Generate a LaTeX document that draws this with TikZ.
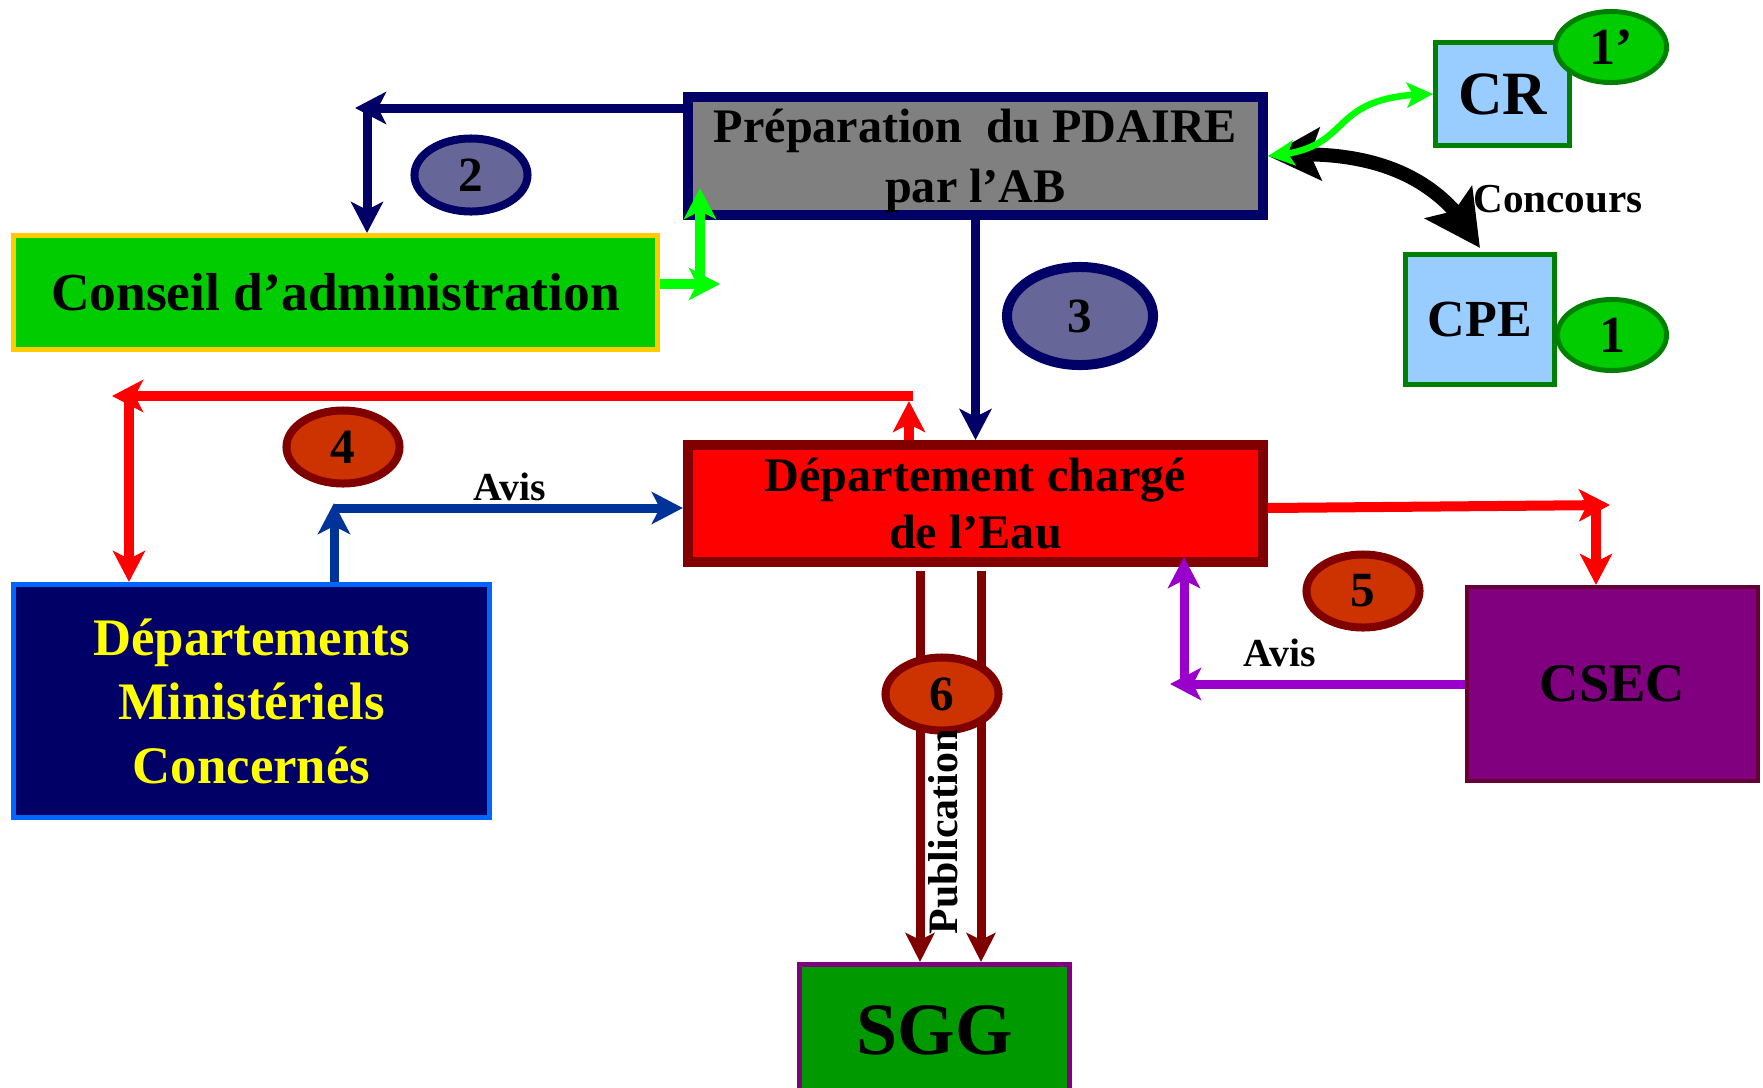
\documentclass[tikz,border=0pt]{standalone}
\usepackage{fontspec}
\setmainfont{Liberation Serif}
\usetikzlibrary{arrows.meta,shapes.geometric,bending}
\definecolor{cnavy}{HTML}{000066}
\definecolor{cgray}{HTML}{808080}
\definecolor{cslate}{HTML}{666699}
\definecolor{cleaf}{HTML}{00CC00}
\definecolor{cgold}{HTML}{FFCC00}
\definecolor{clime}{HTML}{00FF00}
\definecolor{cred}{HTML}{FF0000}
\definecolor{cmaroon}{HTML}{800000}
\definecolor{crust}{HTML}{CC3300}
\definecolor{cazure}{HTML}{0066FF}
\definecolor{ccobalt}{HTML}{003399}
\definecolor{cviolet}{HTML}{9900CC}
\definecolor{cplum}{HTML}{800080}
\definecolor{cwine}{HTML}{660033}
\definecolor{csgg}{HTML}{009900}
\definecolor{csky}{HTML}{99CCFF}
\definecolor{cdkgreen}{HTML}{008000}
\definecolor{cyellow}{HTML}{FFFF00}
\begin{document}
\begin{tikzpicture}[x=0.01cm,y=-0.01cm,
  box/.style={rectangle, inner sep=0pt, align=center},
  badge/.style={ellipse, inner sep=0pt, minimum width=1.13cm, minimum height=0.73cm,
    font=\fontsize{14pt}{16pt}\selectfont\bfseries},
  redbadge/.style={badge, draw=cmaroon, fill=crust, line width=0.08cm},
  bluebadge/.style={badge, draw=cnavy, fill=cslate, line width=0.08cm},
  greenbadge/.style={badge, draw=cdkgreen, fill=cleaf, line width=0.05cm,
    font=\fontsize{14.8pt}{16pt}\selectfont\bfseries},
  lbl/.style={inner sep=0pt, anchor=base, font=\fontsize{11.3pt}{13pt}\selectfont\bfseries},
  tipA/.style={-{Stealth[length=0.31cm,width=0.32cm,inset=0.08cm]}},
  navyarr/.style={tipA, draw=cnavy, line width=0.09cm},
  greenarr/.style={tipA, draw=clime, line width=0.1cm},
  redarr/.style={tipA, draw=cred, line width=0.1cm},
  bluearr/.style={tipA, draw=ccobalt, line width=0.09cm},
  purparr/.style={tipA, draw=cviolet, line width=0.09cm},
  maroonarr/.style={-{Stealth[length=0.29cm,width=0.29cm,inset=0.07cm]}, draw=cmaroon, line width=0.09cm},
  blackarr/.style={{Stealth[length=0.52cm,width=0.52cm,inset=0.1cm]}-{Stealth[length=0.55cm,width=0.56cm,inset=0.1cm]}, draw=black, line width=0.14cm},
  limearr/.style={{Stealth[length=0.26cm,width=0.25cm,inset=0.06cm]}-{Stealth[length=0.26cm,width=0.25cm,inset=0.06cm]}, draw=clime, line width=0.065cm}
]
\useasboundingbox[fill=white] (0,0) rectangle (1763,1087);

% boxes
\node[box, draw=cnavy, fill=cgray, line width=0.1cm, minimum width=5.75cm, minimum height=1.18cm,
  text depth=0pt, font=\fontsize{13.7pt}{17.1pt}\selectfont\bfseries] (pdaire) at (975.5,156)
  {Préparation~ du PDAIRE\\par l’AB};
\node[box, draw=cgold, fill=cleaf, line width=0.05cm, minimum width=6.44cm, minimum height=1.14cm,
  font=\fontsize{15.2pt}{18pt}\selectfont\bfseries] (conseil) at (335.5,292.5)
  {Conseil d’administration};
\node[box, draw=cazure, fill=cnavy, text=cyellow, line width=0.05cm, minimum width=4.76cm, minimum height=2.33cm,
  font=\fontsize{15pt}{18.2pt}\selectfont\bfseries] (dmc) at (251.5,701)
  {Départements\\Ministériels\\Concernés};
\node[box, draw=cmaroon, fill=cred, line width=0.1cm, minimum width=5.75cm, minimum height=1.17cm,
  font=\fontsize{13.7pt}{16.2pt}\selectfont\bfseries] (dept) at (975.5,503.5)
  {Département chargé\\de l’Eau};
\node[box, draw=cwine, fill=cplum, line width=0.04cm, minimum width=2.91cm, minimum height=1.94cm,
  font=\fontsize{15.5pt}{18pt}\selectfont\bfseries] (csec) at (1612.5,684) {CSEC};
\node[box, draw=cplum, fill=csgg, line width=0.05cm, minimum width=2.70cm, minimum height=1.31cm,
  font=\fontsize{21pt}{24pt}\selectfont\bfseries] (sgg) at (934.5,1030) {SGG};
\node[box, draw=cdkgreen, fill=csky, line width=0.05cm, minimum width=1.34cm, minimum height=1.03cm,
  font=\fontsize{17.5pt}{20pt}\selectfont\bfseries] (cr) at (1502.5,94) {CR};
\node[box, draw=cdkgreen, fill=csky, line width=0.05cm, minimum width=1.49cm, minimum height=1.30cm,
  font=\fontsize{14.8pt}{17pt}\selectfont\bfseries] (cpe) at (1480,319.5) {CPE};

% free ends
\coordinate (n2tip) at (355,108);
\coordinate (n2bend) at (367,108);
\coordinate (g1tip) at (720,284);
\coordinate (g2tip) at (700,188);
\coordinate (r4top) at (909,401);
\coordinate (r4end) at (913,396);
\coordinate (r4tip) at (112,396);
\coordinate (r4bend) at (129,396);
\coordinate (b1tip) at (334,503);
\coordinate (b2) at (334,508);
\coordinate (r5s) at (1300,508);
\coordinate (r5tip) at (1610,505);
\coordinate (r5bend) at (1596,505);
\coordinate (p1tip) at (1170,684);
\coordinate (p2tip) at (1184,557);
\coordinate (m1) at (920,571);
\coordinate (m2) at (981,571);

% connectors
\draw[navyarr] (pdaire.west |- n2tip) -- (n2tip);
\draw[navyarr] (n2bend) -- (n2bend |- conseil.north);
\draw[greenarr] (conseil.east |- g1tip) -- (g1tip);
\draw[greenarr] (g2tip |- g1tip) -- (g2tip);
\draw[navyarr] ([yshift=0.1cm]pdaire.south) -- (dept.north);
\draw[redarr] (dept.north -| r4top) -- (r4top);
\draw[redarr] (r4end) -- (r4tip);
\draw[redarr] (r4bend) -- (r4bend |- dmc.north);
\draw[bluearr] (dmc.north -| b1tip) -- (b1tip);
\draw[bluearr] (b2) -- (b2 -| dept.west);
\draw[redarr] (dept.east |- r5s) -- (r5tip);
\draw[redarr] (r5bend) -- (r5bend |- csec.north);
\draw[purparr] (csec.west |- p1tip) -- (p1tip);
\draw[purparr] (p2tip |- p1tip) -- (p2tip);
\draw[maroonarr, shorten <=0.04cm] (dept.south -| m1) -- (m1 |- sgg.north);
\draw[maroonarr, shorten <=0.04cm] (dept.south -| m2) -- (m2 |- sgg.north);
\draw[blackarr] (pdaire.east) .. controls (1390,145) and (1450,190) .. ([yshift=0.04cm]cpe.north);
\draw[limearr] (pdaire.east) .. controls (1360,150) and (1320,95) .. (cr.west);

% badges
\node[greenbadge, minimum width=1.11cm, minimum height=0.71cm] (e1p) at (1611,47) {1’};
\node[greenbadge, minimum width=1.09cm, minimum height=0.71cm] (e1) at (1612,335) {1};
\node[bluebadge] (e2) at (471,175) {2};
\node[bluebadge, line width=0.1cm, minimum width=1.46cm, minimum height=0.98cm] (e3) at (1080,316) {3};
\node[redbadge] (e4) at (343,447) {4};
\node[redbadge] (e5) at (1363,591) {5};
\node[redbadge] (e6) at (942,694) {6};

% labels
\node[lbl] (avis1) at (510,500) {Avis};
\node[lbl] (avis2) at (1280,666) {Avis};
\node[lbl, font=\fontsize{11.7pt}{13pt}\selectfont\bfseries] (concours) at (1558,212) {Concours};
\node[lbl, rotate=90, font=\fontsize{11.9pt}{13pt}\selectfont\bfseries] (publi) at (957,832) {Publication};
\end{tikzpicture}
\end{document}
